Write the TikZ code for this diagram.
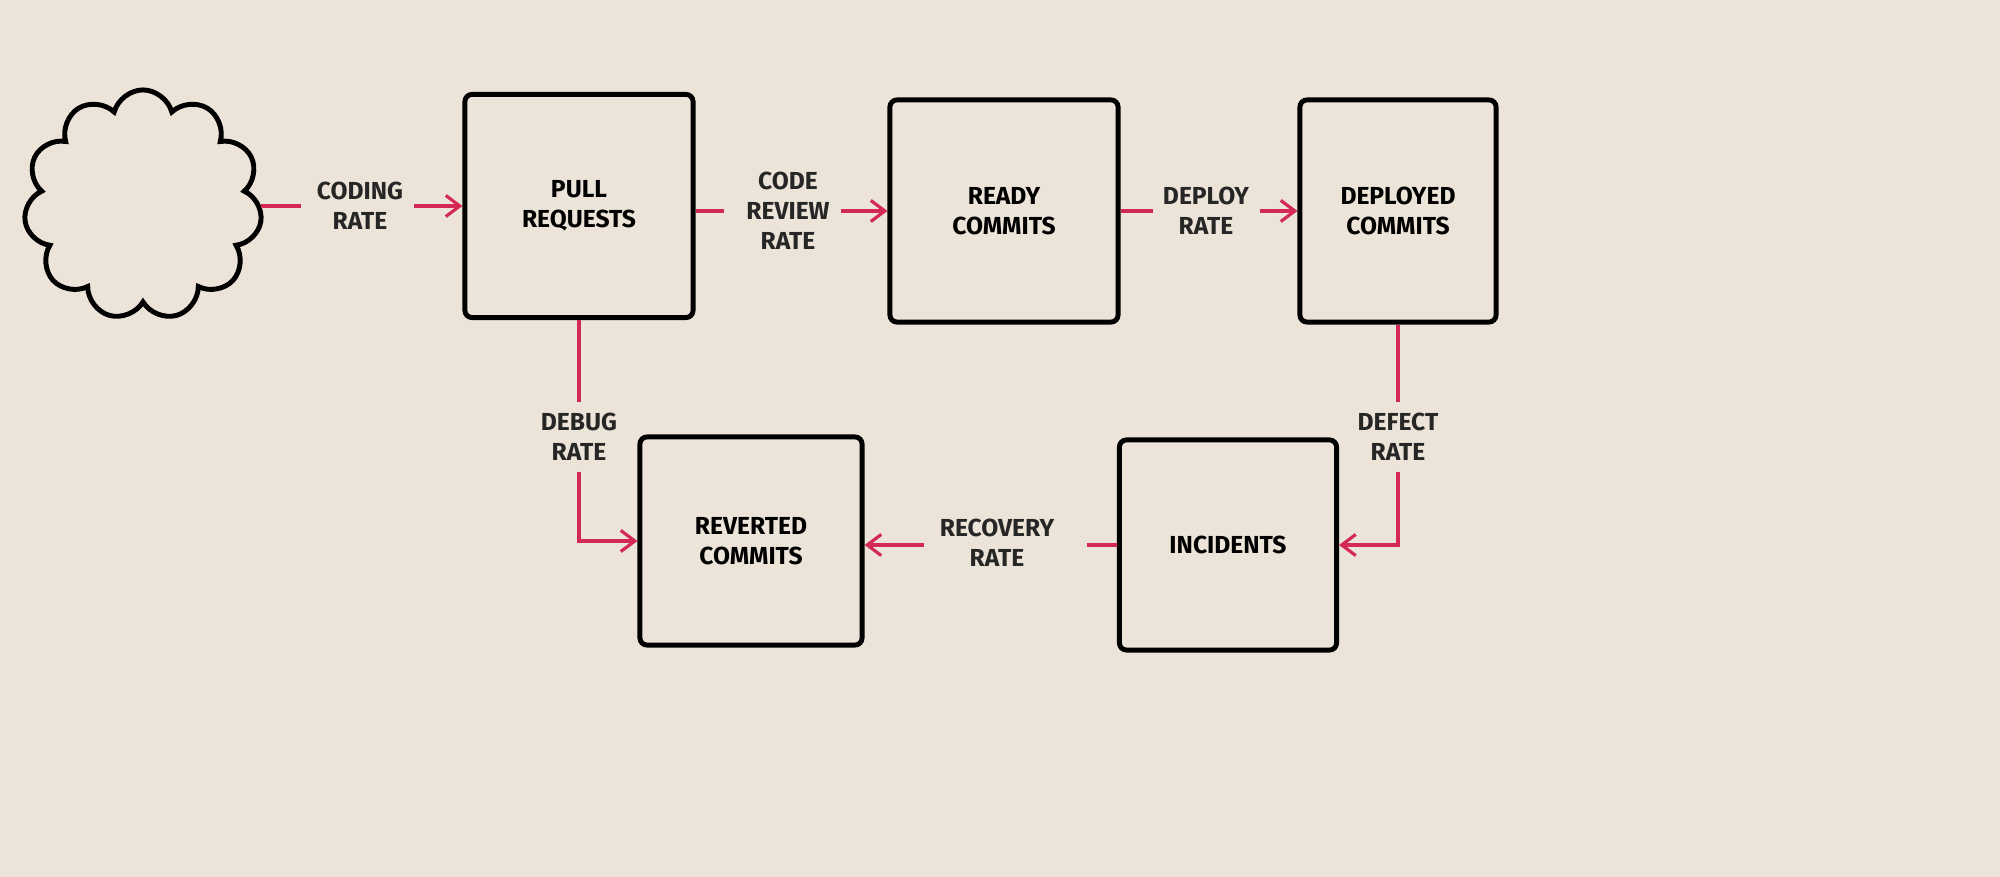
\documentclass[tikz,border=0pt]{standalone}
\usepackage{fontspec}
\setmainfont{Fira Sans}
\usetikzlibrary{shapes.symbols,arrows.meta}
\definecolor{bg}{RGB}{236,228,216}
\definecolor{flow}{RGB}{212,40,85}
\begin{document}
\begin{tikzpicture}[x=0.01cm,y=-0.01cm,
  box/.style={draw=black,line width=1.4pt,rounded corners=2pt,align=center,font=\bfseries\fontsize{7}{8.5}\selectfont,inner sep=0pt},
  lab/.style={align=center,font=\bfseries\fontsize{7}{8.5}\selectfont,inner sep=3pt,text=black!85},
  fl/.style={draw=flow,line width=0.9pt},
  fa/.style={fl,-{Straight Barb[length=4pt,width=6pt]}}]
\fill[bg] (0,0) rectangle (2000,877);
\useasboundingbox (0,0) rectangle (2000,877);
\node[cloud,cloud puffs=11,aspect=1.05,draw,line width=1.4pt,minimum width=2.38cm,minimum height=2.3cm] (src) at (143,205) {};
\node[box,minimum width=2.28cm,minimum height=2.23cm] (pr) at (579,206) {PULL\\REQUESTS};
\node[box,minimum width=2.28cm,minimum height=2.22cm] (rc) at (1004,211) {READY\\COMMITS};
\node[box,minimum width=1.96cm,minimum height=2.22cm] (dc) at (1398,211) {DEPLOYED\\COMMITS};
\node[box,minimum width=2.22cm,minimum height=2.08cm] (rv) at (751,541) {REVERTED\\COMMITS};
\node[box,minimum width=2.17cm,minimum height=2.10cm] (inc) at (1228,545) {INCIDENTS};
\node[lab] (l1) at (360,206) {CODING\\RATE};
\node[lab] (l2) at (788,211) {CODE\\REVIEW\\RATE};
\node[lab] (l3) at (1206,211) {DEPLOY\\RATE};
\node[lab] (l4) at (1398,437) {DEFECT\\RATE};
\node[lab] (l5) at (997,543) {RECOVERY\\RATE};
\node[lab] (l6) at (579,437) {DEBUG\\RATE};
\draw[fl] (src.east|-l1) -- ++(40,0);
\draw[fa] (l1.east) -- (pr.west|-l1);
\draw[fl] (pr.east|-l2) -- ++(28,0);
\draw[fa] (l2.east) -- (rc.west|-l2);
\draw[fl] (rc.east|-l3) -- ++(32,0);
\draw[fa] (l3.east) -- (dc.west|-l3);
\draw[fl] (dc.south) -- (l4.north);
\draw[fa] (l4.south) |- (inc.east);
\draw[fl] (inc.west) -- ++(-30,0);
\draw[fa] (l5.west|-inc) ++(-5,0) -- (rv.east|-inc);
\draw[fl] (pr.south) -- (l6.north);
\draw[fa] (l6.south) |- (rv.west);
\end{tikzpicture}
\end{document}
